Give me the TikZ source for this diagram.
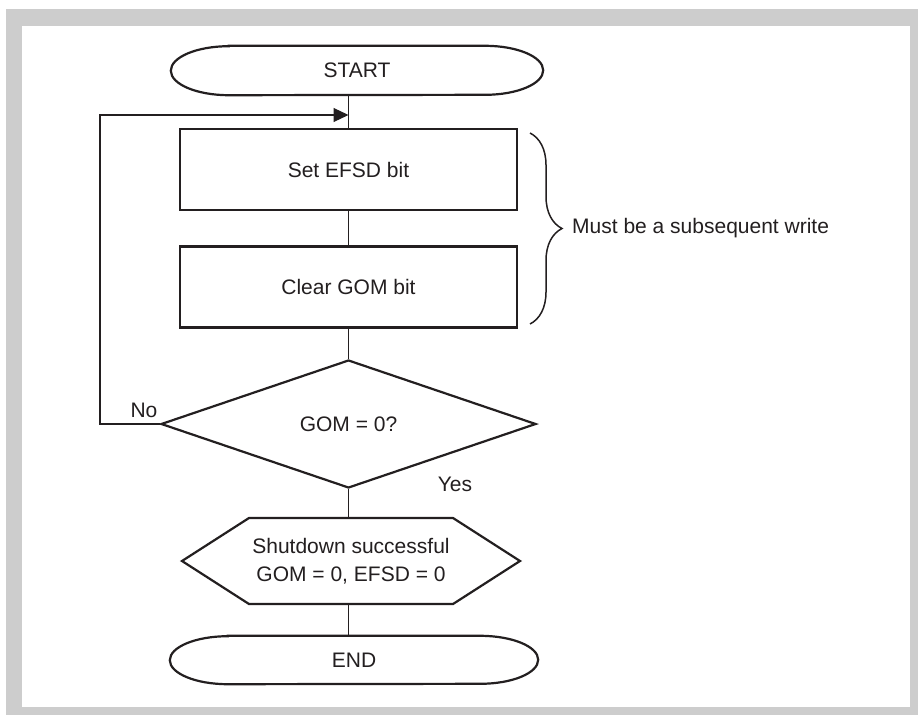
\documentclass[tikz,border=0pt]{standalone}
\usepackage{fontspec}
\setmainfont{Liberation Sans}
\usetikzlibrary{shapes.geometric,shapes.misc,shapes.symbols,arrows.meta,decorations.pathreplacing}
\definecolor{ink}{HTML}{231F20}
\definecolor{framegray}{HTML}{CDCDCD}
\begin{document}
\begin{tikzpicture}[x=1pt,y=-1pt,
  font=\fontsize{21}{28}\selectfont, text=ink,
  shapeline/.style={draw=ink, line width=2.2pt},
  conn/.style={draw=ink, line width=1.1pt},
  term/.style={rectangle, inner sep=0pt, minimum height=49pt},
  procbox/.style={shapeline, rectangle, inner sep=0pt, minimum width=337pt, minimum height=81pt},
  decision/.style={shapeline, diamond, inner sep=0pt, aspect=2.93, minimum width=375pt, minimum height=128pt},
  hexbox/.style={shapeline, signal, signal to=west and east, signal pointer angle=65.4, inner sep=0pt, minimum width=338pt, minimum height=86pt, align=center},
  lbl/.style={inner sep=0pt}]
\useasboundingbox (0,0) rectangle (918,715);
\fill[framegray] (6,9) rectangle (918,715);
\fill[white] (22,26) rectangle (910,707);

\node[term, minimum width=372pt] (start) at (357,70.5) {START};
\node[procbox] (set) at (348.5,169.5) {Set EFSD bit};
\node[procbox] (clr) at (348.5,287) {Clear GOM bit};
\node[decision] (dec) at (348.5,424) {GOM = 0?};
\node[hexbox] (ok) at (351,561) {Shutdown successful\\GOM = 0, EFSD = 0};
\node[term, minimum width=368pt, minimum height=48pt] (end) at (354,660) {END};

% elliptical-ended terminator outlines
\draw[shapeline] ([xshift=58pt]start.north west) -- ([xshift=-58pt]start.north east)
  arc[start angle=-90, end angle=90, x radius=58, y radius=24.5]
  -- ([xshift=58pt]start.south west)
  arc[start angle=90, end angle=270, x radius=58, y radius=24.5] -- cycle;
\draw[shapeline] ([xshift=58pt]end.north west) -- ([xshift=-58pt]end.north east)
  arc[start angle=-90, end angle=90, x radius=58, y radius=24]
  -- ([xshift=58pt]end.south west)
  arc[start angle=90, end angle=270, x radius=58, y radius=24] -- cycle;

\coordinate (corner) at (100,115);
\draw[conn] (start.south -| set.north) -- (set.north);
\draw[conn] (set.south) -- (clr.north);
\draw[conn] (clr.south) -- (dec.north);
\draw[conn] (dec.south) -- (dec.south |- ok.north);
\draw[conn] (dec.south |- ok.south) -- (dec.south |- end.north);
\draw[conn, -{Triangle[length=15pt,width=14pt]}] (dec.west) -| (corner) -- (corner -| set.north);

\node[lbl] (no) at (144,410) {No};
\node[lbl] (yes) at (455,484) {Yes};

\coordinate (btop) at (530,133);
\coordinate (bbot) at (530,324);
\draw[draw=ink, line width=1.5pt, decorate, decoration={brace, amplitude=32pt}] (btop) -- (bbot);
\node[lbl, anchor=west] (note) at (572,228) {Must be a subsequent write};
\end{tikzpicture}
\end{document}
